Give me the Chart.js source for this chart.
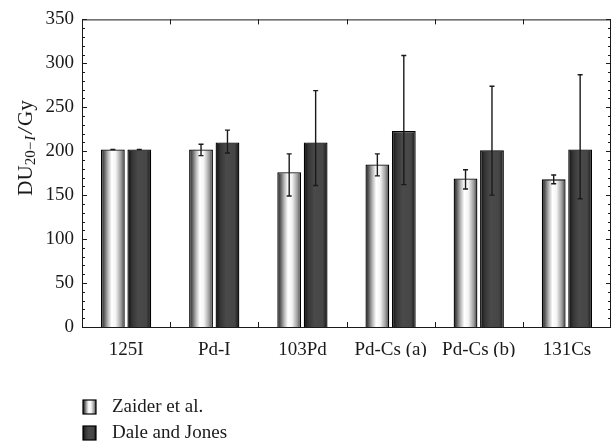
<!DOCTYPE html>
<html>
<head>
<meta charset="utf-8">
<script src="https://cdn.jsdelivr.net/npm/chart.js@4"></script>
<style>
  html, body { margin: 0; padding: 0; background: #fff; }
  #wrap { width: 616px; height: 447px; }
</style>
</head>
<body>
<div id="wrap"><canvas id="bars"></canvas></div>
<script>
/* data */
const categories = ['125I', 'Pd-I', '103Pd', 'Pd-Cs (a)', 'Pd-Cs (b)', '131Cs'];
const seriesNames = ['Zaider et al.', 'Dale and Jones'];
const zaider     = [202, 202, 176, 185, 169, 168];
const zaiderLow  = [202, 195, 149, 172, 157, 163];
const zaiderHigh = [202, 208, 197, 197, 179, 173];
const dale       = [202, 210, 210, 223, 201, 202];
const daleLow    = [202, 198, 161, 162, 150, 146];
const daleHigh   = [202, 224, 269, 309, 274, 287];
const yTicks = [0, 50, 100, 150, 200, 250, 300, 350];

const FONT = "'Liberation Serif', 'DejaVu Serif', serif";
const INK = '#1a1a1a';
const CAT_PCT = 0.6, BAR_PCT = 0.9;

/* cylinder-like shading for each series */
function shade(ctx, x0, x1, which) {
    const g = ctx.createLinearGradient(x0, 0, x1, 0);
    if (which === 0) {
        g.addColorStop(0, '#1e1e1e');
        g.addColorStop(0.12, '#555');
        g.addColorStop(0.3, '#bbb');
        g.addColorStop(0.45, '#fff');
        g.addColorStop(0.62, '#f4f4f4');
        g.addColorStop(0.85, '#9a9a9a');
        g.addColorStop(1, '#3a3a3a');
    } else {
        g.addColorStop(0, '#0e0e0e');
        g.addColorStop(0.2, '#353535');
        g.addColorStop(0.45, '#4a4a4a');
        g.addColorStop(0.8, '#464646');
        g.addColorStop(1, '#141414');
    }
    return g;
}

function barFill(context) {
    const chart = context.chart;
    const xs = chart.scales.x;
    if (!xs || context.dataIndex === undefined) return '#888';
    const slot = xs.width / categories.length * CAT_PCT / 2;
    const w = slot * BAR_PCT;
    const c = xs.getPixelForValue(context.dataIndex) + (context.datasetIndex === 0 ? -slot / 2 : slot / 2);
    if (!isFinite(c) || !isFinite(w) || w <= 0) return '#888';
    return shade(chart.ctx, c - w / 2, c + w / 2, context.datasetIndex);
}

const lows = [zaiderLow, daleLow];
const highs = [zaiderHigh, daleHigh];

/* error bars from the y scale */
const errorBars = {
    id: 'errorBars',
    afterDatasetsDraw(chart) {
        const ctx = chart.ctx, ys = chart.scales.y;
        ctx.save();
        ctx.strokeStyle = INK;
        ctx.lineWidth = 1.4;
        chart.data.datasets.forEach((ds, di) => {
            chart.getDatasetMeta(di).data.forEach((bar, i) => {
                const yl = ys.getPixelForValue(lows[di][i]);
                const yh = ys.getPixelForValue(highs[di][i]);
                ctx.beginPath();
                ctx.moveTo(bar.x, yl); ctx.lineTo(bar.x, yh);
                ctx.moveTo(bar.x - 2.5, yl); ctx.lineTo(bar.x + 2.5, yl);
                ctx.moveTo(bar.x - 2.5, yh); ctx.lineTo(bar.x + 2.5, yh);
                ctx.stroke();
            });
        });
        ctx.restore();
    }
};

/* box frame with inward ticks, y title and legend */
const frame = {
    id: 'frame',
    afterDraw(chart) {
        const ctx = chart.ctx, a = chart.chartArea;
        const xs = chart.scales.x, ys = chart.scales.y;
        ctx.save();
        ctx.strokeStyle = INK;
        ctx.lineWidth = 1;
        ctx.strokeRect(a.left + 0.5, a.top + 0.5, a.right - a.left - 1, a.bottom - a.top);
        ctx.beginPath();
        for (let v = 0; v <= 350; v += 10) {
            const y = Math.round(ys.getPixelForValue(v)) + 0.5;
            const len = v % 50 === 0 ? 5 : 3;
            ctx.moveTo(a.left, y); ctx.lineTo(a.left + len, y);
            ctx.moveTo(a.right, y); ctx.lineTo(a.right - len, y);
        }
        const step = xs.width / categories.length;
        for (let k = 1; k < categories.length; k++) {
            const x = Math.round(a.left + k * step) + 0.5;
            ctx.moveTo(x, a.bottom); ctx.lineTo(x, a.bottom - 5);
            ctx.moveTo(x, a.top); ctx.lineTo(x, a.top + 5);
        }
        ctx.stroke();

        // y axis title DU_{20-I}/Gy
        ctx.fillStyle = INK;
        ctx.translate(26, 148);
        ctx.rotate(-Math.PI / 2);
        ctx.textBaseline = 'middle';
        const parts = [
            ['DU', '21px ' + FONT, 0, 0],
            ['20\u2212', '15px ' + FONT, 5, 1],
            ['I', 'italic 15px ' + FONT, 5, 2],
            ['/', 'italic 21px ' + FONT, 0, 2],
            ['Gy', '21px ' + FONT, 0, 0]
        ];
        let total = 0;
        parts.forEach(p => { ctx.font = p[1]; total += ctx.measureText(p[0]).width + p[3]; });
        let x = -total / 2;
        parts.forEach(p => {
            ctx.font = p[1];
            ctx.fillText(p[0], x, p[2]);
            x += ctx.measureText(p[0]).width + p[3];
        });
        ctx.restore();

        // legend
        ctx.save();
        ctx.font = '19px ' + FONT;
        ctx.textBaseline = 'middle';
        chart.data.datasets.forEach((ds, di) => {
            const bx = a.left + 1, by = a.bottom + 73 + di * 26;
            ctx.fillStyle = shade(ctx, bx, bx + 13, di);
            ctx.fillRect(bx, by, 13, 14);
            ctx.strokeStyle = '#000';
            ctx.lineWidth = 1.2;
            ctx.strokeRect(bx, by, 13, 14);
            ctx.fillStyle = INK;
            ctx.fillText(ds.label, bx + 29, by + 7);
        });
        ctx.restore();
    }
};

const barStyle = {
    backgroundColor: barFill,
    borderColor: '#000',
    borderWidth: 1.3,
    borderSkipped: 'bottom',
    categoryPercentage: CAT_PCT,
    barPercentage: BAR_PCT
};

new Chart(document.getElementById('bars').getContext('2d'), {
    type: 'bar',
    data: {
        labels: categories,
        datasets: [
            Object.assign({ label: seriesNames[0], data: zaider }, barStyle),
            Object.assign({ label: seriesNames[1], data: dale }, barStyle)
        ]
    },
    options: {
        responsive: true,
        maintainAspectRatio: false,
        animation: false,
        devicePixelRatio: 1,
        layout: { padding: { top: 13, right: 5, left: 0, bottom: 90 } },
        plugins: {
            colors: { enabled: false },
            legend: { display: false },
            tooltip: { enabled: false }
        },
        scales: {
            x: {
                grid: { display: false, drawTicks: false },
                border: { display: false },
                ticks: { color: INK, font: { family: FONT, size: 19 }, padding: 12 },
                afterFit(scale) { scale.height = 30; }
            },
            y: {
                min: 0, max: 350,
                grid: { display: false, drawTicks: false },
                border: { display: false },
                afterBuildTicks(scale) { scale.ticks = yTicks.map(v => ({ value: v })); },
                ticks: { color: INK, font: { family: FONT, size: 19 }, padding: 8 },
                afterFit(scale) { scale.width = 82; }
            }
        }
    },
    plugins: [errorBars, frame]
});
</script>
</body>
</html>
